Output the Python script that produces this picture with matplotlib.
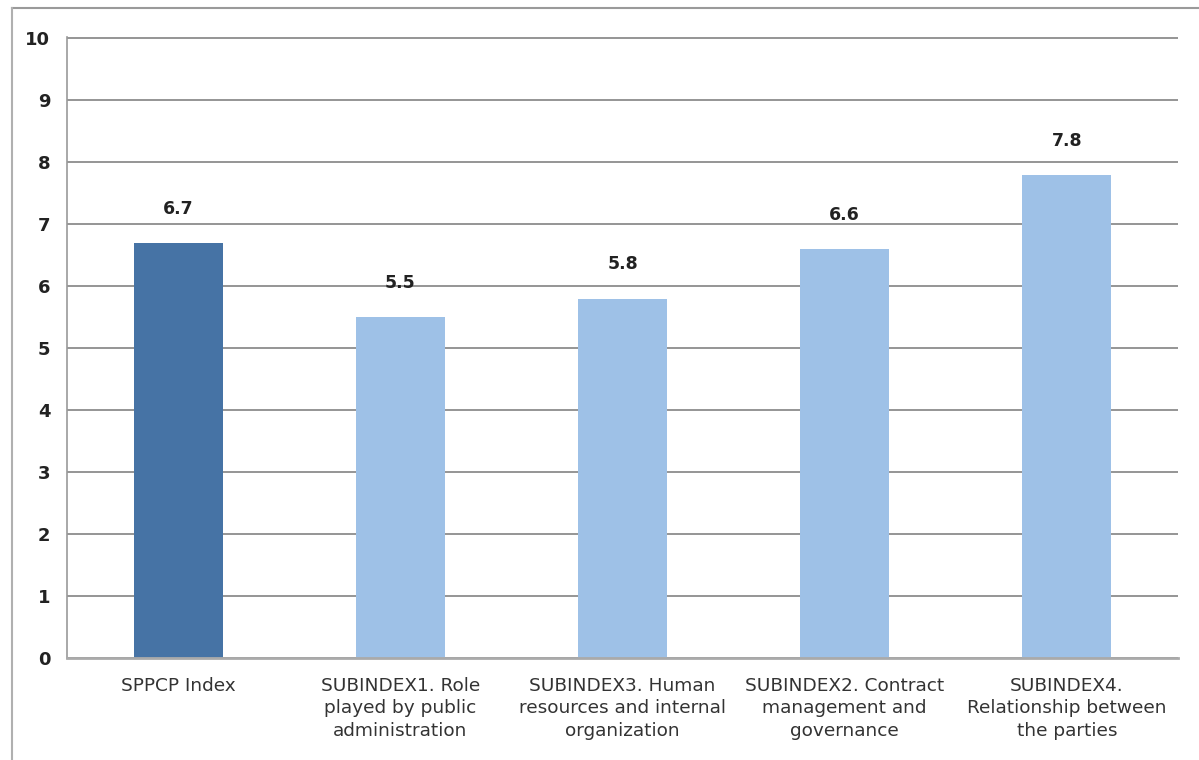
import matplotlib
matplotlib.use("Agg")
import matplotlib.pyplot as plt
from matplotlib.lines import Line2D

categories = [
    "SPPCP Index",
    "SUBINDEX1. Role\nplayed by public\nadministration",
    "SUBINDEX3. Human\nresources and internal\norganization",
    "SUBINDEX2. Contract\nmanagement and\ngovernance",
    "SUBINDEX4.\nRelationship between\nthe parties",
]
values = [6.7, 5.5, 5.8, 6.6, 7.8]
bar_colors = ["#4673a5", "#9ec1e7", "#9ec1e7", "#9ec1e7", "#9ec1e7"]
y_ticks = list(range(0, 11))

plt.rcParams["font.family"] = ["DejaVu Sans"]

fig = plt.figure(figsize=(11.99, 7.60), dpi=100)
ax = fig.add_axes([0.0559, 0.1342, 0.9266, 0.8171])

x = list(range(len(categories)))
ax.bar(x, values, width=0.4, color=bar_colors, zorder=3)

for xi, v in zip(x, values):
    ax.text(xi, v + 0.55, f"{v:.1f}", ha="center", va="center",
            fontsize=12.5, fontweight="bold", color="#222222", zorder=4)

ax.set_xlim(-0.5, len(categories) - 0.5)
ax.set_ylim(0, 10.02)
ax.set_yticks(y_ticks)
ax.set_yticklabels([str(t) for t in y_ticks], fontsize=13, fontweight="bold", color="#222222")
ax.set_xticks(x)
ax.set_xticklabels(categories, fontsize=13.3, color="#333333", linespacing=1.32)
ax.tick_params(axis="both", length=0)
ax.tick_params(axis="y", pad=12)
ax.tick_params(axis="x", pad=13.5)

ax.yaxis.grid(True, color="#8c8c8c", linewidth=1.3, zorder=0)
ax.set_axisbelow(True)
for side in ("top", "right"):
    ax.spines[side].set_visible(False)
ax.spines["left"].set_color("#999999")
ax.spines["left"].set_linewidth(1.2)
ax.spines["bottom"].set_color("#aaaaaa")
ax.spines["bottom"].set_linewidth(2.0)
ax.spines["bottom"].set_zorder(5)

# outer frame: top and left edges
fw, fh = 1199, 760
fig.add_artist(Line2D([12 / fw, 1.0], [1 - 8 / fh, 1 - 8 / fh],
                      transform=fig.transFigure, color="#9a9a9a", linewidth=1.5))
fig.add_artist(Line2D([12 / fw, 12 / fw], [0.0, 1 - 8 / fh],
                      transform=fig.transFigure, color="#b0b0b0", linewidth=1.5))

fig.savefig("out.png", dpi=100, facecolor="white")
